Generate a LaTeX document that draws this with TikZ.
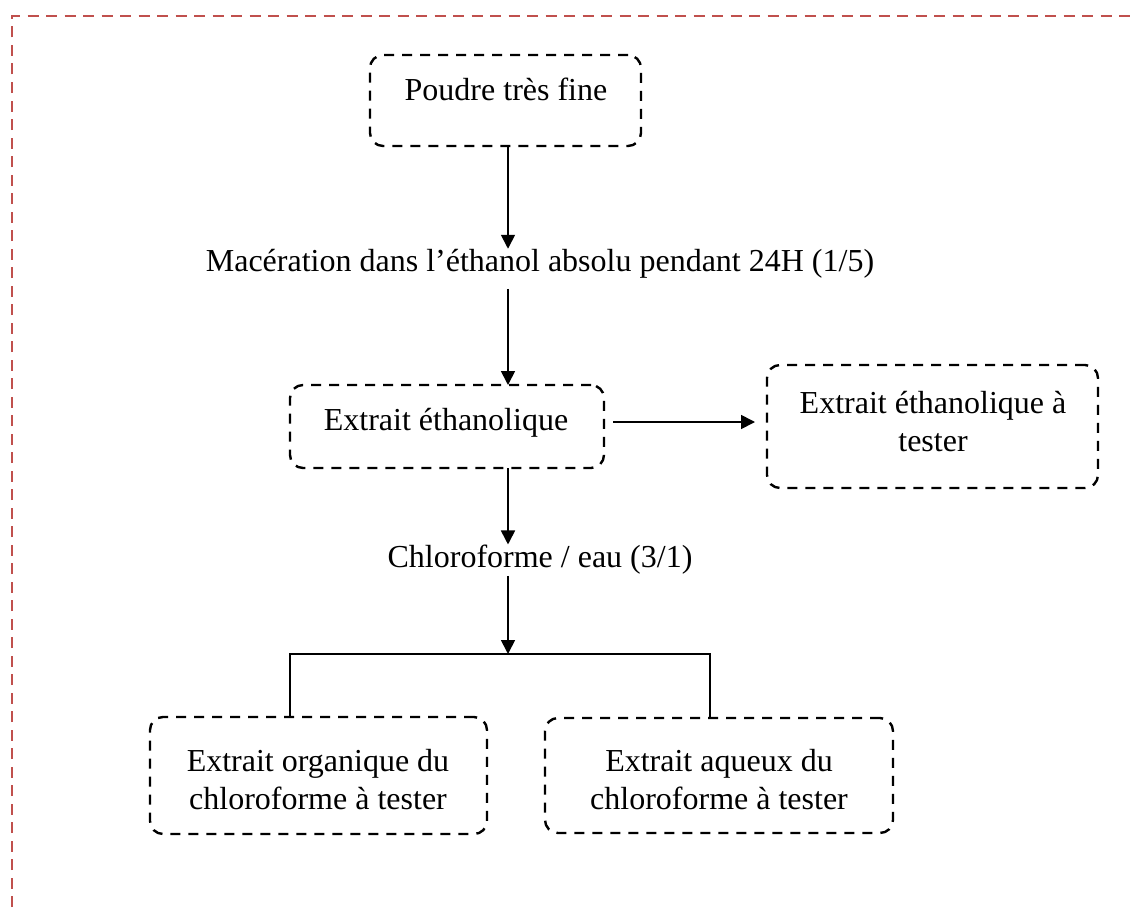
\documentclass[tikz,border=0pt]{standalone}
\usepackage{fontspec}
\setmainfont{Liberation Serif}
\usetikzlibrary{arrows.meta,calc}
\definecolor{borderred}{RGB}{192,80,77}
\begin{document}
\begin{tikzpicture}[x=1pt,y=-1pt,
  box/.style={draw,rounded corners=13pt,line width=2.4pt,dash pattern=on 10pt off 8pt,inner sep=0pt,outer sep=0pt},
  txt/.style={inner sep=0pt,outer sep=0pt,font=\fontsize{32}{38}\selectfont,align=center,anchor=base},
  arr/.style={line width=1.7pt,-{Triangle[length=14pt,width=14pt]}},
  link/.style={line width=1.7pt}]
\useasboundingbox (0,0) rectangle (1131,907);
\draw[borderred,line width=2.4pt,dash pattern=on 11pt off 7.5pt] (12,907) -- (12,16) -- (1131,16);
% boxes
\node[box,minimum width=271pt,minimum height=91pt] (poudre) at (505.5,100.5) {};
\node[box,minimum width=314pt,minimum height=83pt] (eth) at (447,426.5) {};
\node[box,minimum width=331pt,minimum height=123pt] (etht) at (932.5,426.5) {};
\node[box,minimum width=337pt,minimum height=117pt] (org) at (318.5,775.5) {};
\node[box,minimum width=348pt,minimum height=115pt] (aq) at (719,775.5) {};
% texts (base anchor = baseline of the last line)
\node[txt] (tpoudre) at (506,100) {Poudre très fine};
\node[txt] (tmac) at (540,271) {Macération dans l’éthanol absolu pendant 24H (1/5)};
\node[txt] (teth) at (446,430) {Extrait éthanolique};
\node[txt] (tetht) at (933,451) {Extrait éthanolique à\\tester};
\node[txt] (tchl) at (540,567) {Chloroforme / eau (3/1)};
\node[txt] (torg) at (318,809) {Extrait organique du\\chloroforme à tester};
\node[txt] (taq) at (719,809) {Extrait aqueux du\\chloroforme à tester};
% connectors
\coordinate (ax) at (508,0);
\coordinate (split) at (508,654);
\coordinate (sl) at (290,654);
\coordinate (sr) at (710,654);
\draw[arr] (poudre.south -| ax) -- (tmac.north -| ax);
\draw[arr] ($(tmac.south -| ax)+(0,11)$) -- (eth.north -| ax);
\draw[arr] ($(eth.east)+(9,-4.5)$) -- ($(etht.west)+(-12,-4.5)$);
\draw[arr] (eth.south -| ax) -- (tchl.north -| ax);
\draw[arr] ($(tchl.south -| ax)+(0,2)$) -- (split);
\draw[link] (org.north -| sl) |- (split) -| (aq.north -| sr);
\end{tikzpicture}
\end{document}
